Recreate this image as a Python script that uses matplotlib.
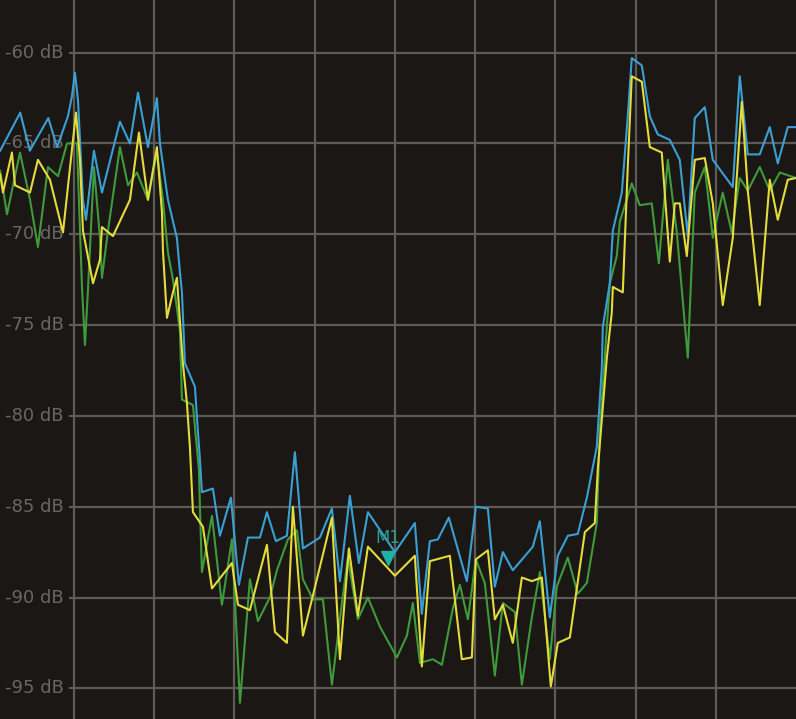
import matplotlib
matplotlib.use("Agg")
import matplotlib.pyplot as plt
import matplotlib.transforms as mtransforms

# trace data: frequency (arbitrary units, 10 per division) and level in dB
blue_f = [-9.2, -6.7, -5.5, -3.2, -2.1, -0.75, -0.25, 0.12, 0.5, 1.12, 1.5, 2.49, 3.49, 5.73, 6.98,
          7.98, 9.22, 10.34, 10.72, 11.71, 12.83, 13.21, 13.46, 13.83, 15.08, 15.33, 15.7, 15.95,
          17.32, 18.19, 19.56, 20.56, 21.68, 23.18, 24.05, 25.17, 26.54, 27.54, 28.54, 30.65,
          32.15, 33.15, 34.39, 35.51, 36.64, 40.0, 42.49, 43.36, 44.36, 45.36, 46.73, 48.97,
          50.09, 51.59, 52.46, 53.46, 54.7, 57.2, 58.07, 59.31, 60.31, 61.56, 62.8, 63.93,
          65.17, 65.8, 65.92, 66.79, 67.17, 68.29, 69.03, 69.53, 70.78, 71.78, 72.77, 74.27,
          75.51, 76.51, 77.38, 78.63, 79.63, 82.12, 82.99, 83.99, 85.48, 86.73, 87.73, 88.97, 90.0]
blue_db = [-65.4, -63.3, -65.4, -63.6, -65.2, -63.5, -62.4, -61.1, -62.6, -68.1, -69.2, -65.4, -67.7,
           -63.8, -65.0, -62.2, -65.2, -62.5, -65.0, -68.1, -70.2, -72.1, -73.2, -77.1, -78.4,
           -80.1, -82.4, -84.2, -84.0, -86.6, -84.5, -89.3, -86.7, -86.7, -85.3, -86.9, -86.6,
           -82.0, -87.3, -86.7, -85.1, -89.1, -84.4, -88.1, -85.3, -87.5, -85.9, -90.9, -86.9,
           -86.8, -85.6, -89.1, -85.0, -85.1, -89.4, -87.5, -88.5, -87.2, -85.8, -91.1, -87.7,
           -86.6, -86.5, -84.5, -81.7, -77.3, -75.1, -72.7, -69.8, -67.7, -63.5, -60.3, -60.7,
           -63.5, -64.5, -64.8, -65.9, -70.1, -63.6, -63.0, -65.9, -67.4, -61.3, -65.6, -65.6,
           -64.1, -66.1, -64.1, -64.1]

yellow_f = [-9.2, -8.85, -7.73, -7.35, -5.48, -4.49, -2.99, -1.37, 0.25, 0.75, 1.12, 2.37, 3.24,
            3.49, 4.86, 6.98, 8.1, 9.22, 10.34, 10.97, 11.09, 11.59, 12.34, 12.83, 13.58, 14.08,
            14.45, 14.83, 16.07, 17.2, 19.69, 20.44, 21.93, 24.05, 25.05, 26.54, 27.29, 28.54,
            29.78, 32.15, 33.15, 34.27, 35.39, 36.64, 40.0, 42.49, 43.36, 44.36, 46.85, 48.35,
            49.6, 50.09, 51.59, 52.46, 53.46, 54.7, 55.83, 57.07, 58.32, 59.44, 60.31, 61.81,
            63.68, 64.92, 65.3, 66.42, 67.04, 67.17, 68.41, 69.03, 69.53, 70.78, 71.78, 73.27,
            74.27, 74.89, 75.51, 76.39, 77.38, 78.63, 79.63, 80.87, 82.12, 83.24, 83.99, 85.48,
            86.73, 87.73, 88.97, 90.0]
yellow_db = [-66.7, -67.7, -65.5, -67.3, -67.7, -65.9, -67.0, -69.9, -63.3, -65.9, -69.8, -72.7,
             -71.4, -69.6, -70.1, -68.1, -64.4, -68.1, -65.2, -68.8, -70.9, -74.6, -73.2, -72.4,
             -77.1, -79.3, -81.7, -85.3, -86.1, -89.5, -88.1, -90.4, -90.7, -87.1, -91.9, -92.5,
             -85.0, -92.1, -89.9, -85.6, -93.4, -87.3, -91.0, -87.2, -88.8, -87.7, -93.8, -88.0,
             -87.7, -93.4, -93.3, -87.9, -87.4, -91.2, -90.4, -92.5, -88.9, -89.1, -88.9, -94.9,
             -92.5, -92.2, -86.4, -85.9, -82.9, -76.8, -74.3, -72.9, -73.2, -66.3, -61.3, -61.6,
             -65.2, -65.5, -71.5, -68.3, -68.3, -71.2, -65.9, -65.8, -68.3, -73.9, -70.2, -62.7,
             -67.6, -73.9, -67.0, -69.2, -67.0, -66.9]

green_f = [-9.2, -8.35, -6.73, -5.48, -4.49, -3.24, -1.99, -0.87, 0.37, 1.0, 1.37, 1.74, 2.49,
           3.24, 3.49, 4.24, 5.73, 6.73, 7.85, 9.22, 10.34, 11.09, 11.71, 12.34, 13.21, 13.46,
           14.83, 15.2, 15.58, 15.7, 15.95, 17.2, 18.44, 19.69, 20.69, 21.93, 22.93, 24.42,
           25.3, 26.67, 27.79, 28.54, 29.78, 31.03, 32.15, 33.4, 34.14, 35.39, 36.64, 38.13,
           40.25, 41.5, 42.24, 43.12, 44.74, 45.86, 47.23, 48.1, 49.1, 50.09, 51.21, 52.46,
           53.46, 54.95, 55.83, 57.07, 58.07, 59.31, 60.19, 61.56, 62.8, 63.93, 65.17, 65.55,
           66.79, 67.66, 68.04, 69.53, 70.53, 72.02, 72.9, 74.02, 75.14, 76.51, 77.38, 78.63,
           79.63, 80.87, 81.99, 82.99, 83.99, 85.48, 86.73, 87.98, 90.0]
green_db = [-66.5, -68.9, -65.5, -68.1, -70.7, -66.3, -66.8, -65.0, -65.0, -72.9, -76.1, -73.1,
            -66.3, -70.2, -72.4, -69.8, -65.2, -67.3, -66.6, -68.1, -65.5, -68.1, -71.0, -72.5,
            -75.3, -79.1, -79.4, -81.2, -83.0, -85.0, -88.6, -85.5, -90.4, -86.8, -95.8, -89.0,
            -91.3, -90.0, -88.5, -86.8, -86.3, -89.0, -90.1, -90.1, -94.8, -90.3, -87.8, -91.2,
            -90.0, -91.6, -93.3, -92.1, -90.3, -93.6, -93.4, -93.7, -90.6, -89.3, -91.2, -87.9,
            -89.2, -94.3, -90.3, -90.8, -94.8, -91.1, -88.6, -93.4, -89.4, -87.8, -89.8, -89.2,
            -85.9, -80.8, -72.7, -71.2, -69.3, -67.2, -68.4, -68.3, -71.6, -65.9, -69.9, -76.8,
            -67.7, -66.3, -70.2, -67.7, -69.9, -66.9, -67.6, -66.3, -67.6, -66.6, -66.9]

db_ticks = [-60, -65, -70, -75, -80, -85, -90, -95]
freq_ticks = [0, 10, 20, 30, 40, 50, 60, 70, 80]
marker_f = 39.1
marker_db = -87.8

bg = "#1b1715"
grid_col = "#5e5a56"
text_col = "#6b6661"

fig = plt.figure(figsize=(7.96, 7.19), dpi=100, facecolor=bg)
ax = fig.add_axes([0, 0, 1, 1], facecolor=bg)

ax.plot(green_f, green_db, color="#3e9a3a", lw=1.5, zorder=3)
ax.plot(blue_f, blue_db, color="#3a9fd3", lw=1.5, zorder=3.1)
ax.plot(yellow_f, yellow_db, color="#e4dc3c", lw=1.5, zorder=3.2)

# marker M1
ax.plot([marker_f], [marker_db], marker="v", ms=10, color="#1fb0a6", zorder=4)
ax.text(marker_f, marker_db + 1.1, "M1", color="#2f9a90", fontsize=12, ha="center", va="center", zorder=4)

ax.set_xlim(-9.22, 90.0)
ax.set_ylim(-96.69, -57.1)
ax.set_xticks(freq_ticks)
ax.set_yticks(db_ticks)
ax.grid(True, color=grid_col, lw=1.6)
ax.set_axisbelow(True)
ax.tick_params(length=0, labelleft=False, labelbottom=False)
for s in ax.spines.values():
    s.set_visible(False)

# labels sit on a dark box so the grid line starts right of the text
trans = mtransforms.blended_transform_factory(ax.transAxes, ax.transData)
for v in db_ticks:
    ax.text(0.006, v, f"{v} dB", transform=trans, color=text_col, fontsize=13,
            ha="left", va="center", zorder=2,
            bbox=dict(boxstyle="square,pad=0.3", fc=bg, ec="none"))

fig.savefig("out.png", dpi=100, facecolor=bg)
